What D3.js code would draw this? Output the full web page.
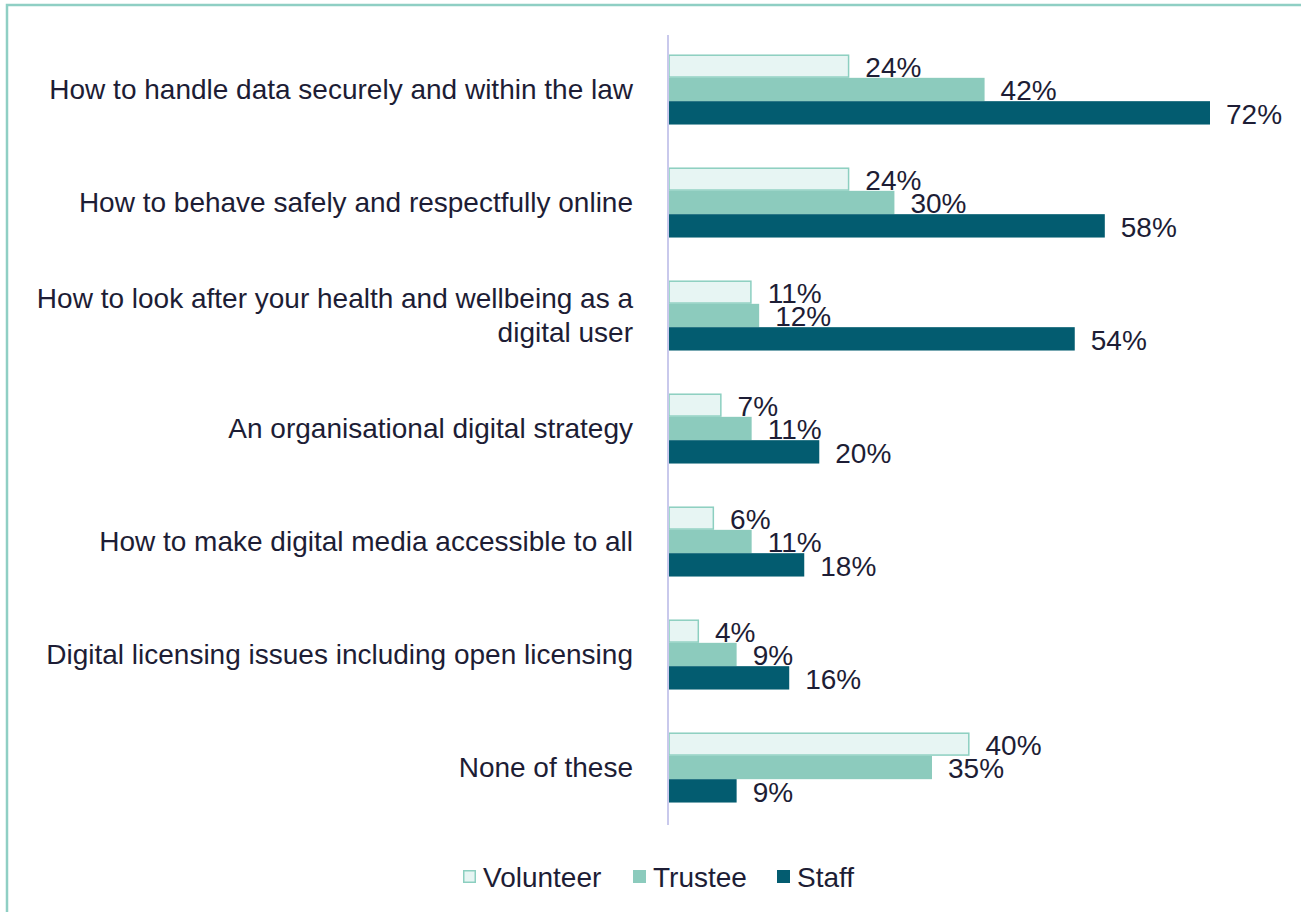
<!DOCTYPE html>
<html>
<head>
<meta charset="utf-8">
<script src="https://cdn.jsdelivr.net/npm/d3@7"></script>
<style>
  body { margin: 0; background: #fff; }
  text { font-family: "Liberation Sans", Arial, sans-serif; fill: #1d1d35; }
</style>
</head>
<body>
<script>
let width = 1301;
let height = 912;

// data
let categories = [
  ["How to handle data securely and within the law"],
  ["How to behave safely and respectfully online"],
  ["How to look after your health and wellbeing as a", "digital user"],
  ["An organisational digital strategy"],
  ["How to make digital media accessible to all"],
  ["Digital licensing issues including open licensing"],
  ["None of these"]
];
let seriesNames = ["Volunteer", "Trustee", "Staff"];
let volunteer = [24, 24, 11, 7, 6, 4, 40];
let trustee = [42, 30, 12, 11, 11, 9, 35];
let staff = [72, 58, 54, 20, 18, 16, 9];

let fills = ["#e7f5f3", "#8ccbbd", "#035c70"];
let strokes = ["#8ccfc0", "none", "none"];
let fontSize = 28;

let svg = d3.select("body").append("svg")
    .attr("width", width)
    .attr("height", height);

// outer frame
svg.append("rect")
    .attr("x", 7).attr("y", 5)
    .attr("width", width + 10).attr("height", height + 10)
    .attr("fill", "none")
    .attr("stroke", "#8fcfc4")
    .attr("stroke-width", 2.5);

let x = d3.scaleLinear().domain([0, 72]).range([669, 1210]);
let y = d3.scaleBand()
    .domain(d3.range(categories.length))
    .range([33, 824])
    .paddingInner(0.38)
    .paddingOuter(0.19);
let ySub = d3.scaleBand().domain(d3.range(3)).range([0, y.bandwidth()]);

let rows = categories.map((c, i) => ({
  i: i,
  label: c,
  values: [volunteer[i], trustee[i], staff[i]]
}));

let groups = svg.append("g").selectAll("g")
    .data(rows)
    .enter().append("g")
    .attr("transform", d => `translate(0,${y(d.i)})`);

groups.selectAll("rect")
    .data(d => d.values.map((v, k) => ({v: v, k: k})))
    .enter().append("rect")
    .attr("x", x(0))
    .attr("y", d => ySub(d.k) + (d.k === 0 ? 0.75 : 0))
    .attr("width", d => x(d.v) - x(0) - (d.k === 0 ? 0.75 : 0))
    .attr("height", d => ySub.bandwidth() - (d.k === 0 ? 1.5 : 0))
    .attr("fill", d => fills[d.k])
    .attr("stroke", d => strokes[d.k])
    .attr("stroke-width", 1.5);

groups.selectAll("text.val")
    .data(d => d.values.map((v, k) => ({v: v, k: k})))
    .enter().append("text")
    .attr("class", "val")
    .attr("x", d => x(d.v) + 16)
    .attr("y", d => ySub(d.k) + ySub.bandwidth() / 2 + 11)
    .attr("font-size", fontSize)
    .text(d => d.v + "%");

// category labels
groups.append("text")
    .attr("text-anchor", "end")
    .attr("font-size", fontSize)
    .attr("x", 633)
    .attr("y", d => y.bandwidth() / 2 + 10 - (d.label.length - 1) * 17)
    .selectAll("tspan")
    .data(d => d.label)
    .enter().append("tspan")
    .attr("x", 633)
    .attr("dy", (d, k) => k === 0 ? 0 : 34)
    .text(d => d);

// axis line
svg.append("line")
    .attr("x1", 668).attr("x2", 668)
    .attr("y1", 35).attr("y2", 825)
    .attr("stroke", "#c9c9ec")
    .attr("stroke-width", 2);

// legend
let legendX = [463, 633, 777];
let legend = svg.append("g").selectAll("g")
    .data(seriesNames)
    .enter().append("g")
    .attr("transform", (d, k) => `translate(${legendX[k]},870)`);
legend.append("rect")
    .attr("x", (d, k) => k === 0 ? 0.75 : 0)
    .attr("y", (d, k) => k === 0 ? 0.75 : 0)
    .attr("width", (d, k) => k === 0 ? 11.5 : 13)
    .attr("height", (d, k) => k === 0 ? 11.5 : 13)
    .attr("fill", (d, k) => fills[k])
    .attr("stroke", (d, k) => k === 0 ? "#8ccfc0" : "none")
    .attr("stroke-width", 1.5);
legend.append("text")
    .attr("x", 20)
    .attr("y", 17)
    .attr("font-size", fontSize)
    .text(d => d);
</script>
</body>
</html>
